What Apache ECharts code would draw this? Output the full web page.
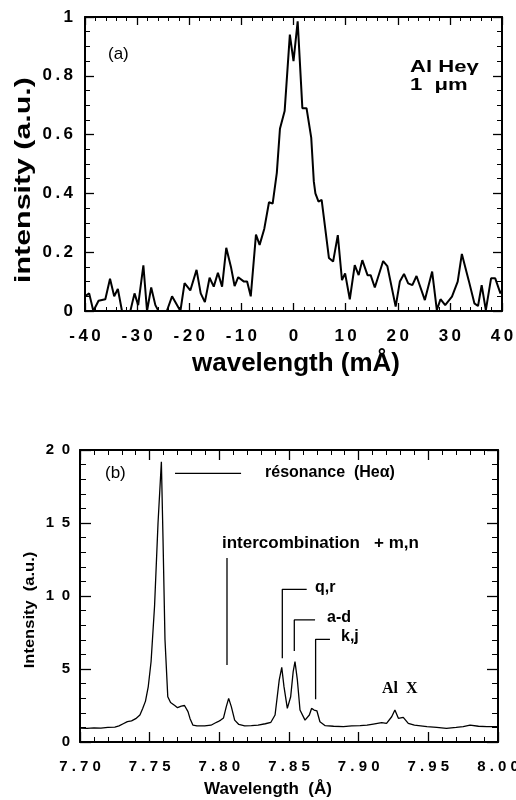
<!DOCTYPE html>
<html>
<head>
<meta charset="utf-8">
<script src="https://cdn.jsdelivr.net/npm/echarts@6/dist/echarts.min.js"></script>
<style>
  html, body { margin: 0; padding: 0; background: #fff; }
  #main { width: 516px; height: 800px; }
</style>
</head>
<body>
<div id="main"></div>
<script>
// panel (a): Al He-gamma line profile
var waveA = [-40, -39.2, -38.4, -37.4, -36.1, -35.2, -34.4, -33.7, -32.9, -31.3, -30.5, -29.8, -28.8, -28.1,
  -27.3, -26.5, -25.9, -24.3, -23.3, -21.7, -20.9, -19.8, -18.6, -17.8, -17.0, -16.1, -15.3, -14.5, -13.7,
  -12.9, -12.0, -11.3, -10.6, -9.5, -8.9, -8.2, -7.2, -6.5, -5.6, -4.7, -4.0, -3.2, -2.6, -1.7, -0.7, 0.0,
  0.8, 1.7, 2.5, 3.4, 3.9, 4.2, 4.8, 5.4, 6.8, 7.6, 8.5, 9.3, 9.9, 10.8, 11.75, 12.5, 13.2, 14.2, 14.8,
  15.6, 17.2, 18.0, 19.6, 20.4, 21.2, 22.0, 22.8, 23.6, 25.2, 26.6, 27.5, 28.2, 29.1, 30.4, 31.5, 32.3,
  33.6, 34.7, 35.4, 36.1, 36.9, 37.9, 38.7, 39.7, 40];
var intA = [0.05, 0.06, 0.0, 0.035, 0.04, 0.11, 0.05, 0.075, 0.0, 0.0, 0.06, 0.02, 0.155, 0.0,
  0.08, 0.02, 0.0, 0.0, 0.05, 0.0, 0.095, 0.07, 0.14, 0.06, 0.03, 0.113, 0.083, 0.13, 0.083,
  0.215, 0.15, 0.085, 0.115, 0.10, 0.10, 0.05, 0.26, 0.225, 0.28, 0.37, 0.365, 0.47, 0.62, 0.68, 0.94, 0.85,
  0.985, 0.69, 0.69, 0.59, 0.44, 0.40, 0.372, 0.378, 0.18, 0.168, 0.258, 0.105, 0.128, 0.04, 0.156, 0.122, 0.173, 0.122, 0.122,
  0.08, 0.17, 0.153, 0.015, 0.10, 0.126, 0.094, 0.088, 0.119, 0.037, 0.134, 0.003, 0.04, 0.02, 0.049, 0.10, 0.194,
  0.105, 0.026, 0.017, 0.088, 0.003, 0.111, 0.111, 0.06, 0.07];

// panel (b): He-alpha region spectrum
var waveB = [7.700, 7.705, 7.710, 7.715, 7.720, 7.725, 7.728, 7.731, 7.734, 7.737, 7.740, 7.743, 7.745, 7.747,
  7.749, 7.751, 7.7535, 7.756, 7.7584, 7.7596, 7.761, 7.763, 7.765, 7.768, 7.770, 7.7727, 7.775, 7.7775, 7.779,
  7.781, 7.784, 7.7895, 7.794, 7.797, 7.799, 7.801, 7.803, 7.805, 7.8067, 7.8086, 7.811, 7.814, 7.8182, 7.823,
  7.8278, 7.833, 7.837, 7.840, 7.843, 7.8448, 7.8464, 7.8488, 7.8512, 7.853, 7.8543, 7.856, 7.8579, 7.8615,
  7.8646, 7.8662, 7.868, 7.870, 7.8722, 7.876, 7.882, 7.889, 7.895, 7.901, 7.906, 7.9105, 7.9165, 7.920,
  7.9237, 7.926, 7.9285, 7.932, 7.9356, 7.940, 7.949, 7.956, 7.963, 7.970, 7.975, 7.980, 7.986, 7.992, 8.000];
var intB = [0.95, 0.93, 0.97, 0.95, 1.00, 1.02, 1.10, 1.25, 1.40, 1.45, 1.60, 1.85, 2.30, 2.80,
  3.80, 5.50, 9.3, 15.0, 19.2, 13.8, 7.0, 3.1, 2.7, 2.5, 2.35, 2.45, 2.50, 2.08, 1.60,
  1.16, 1.10, 1.10, 1.15, 1.30, 1.39, 1.50, 1.65, 2.42, 2.99, 2.42, 1.50, 1.20, 1.10, 1.12,
  1.16, 1.25, 1.35, 1.85, 4.25, 5.11, 3.79, 2.30, 3.10, 4.82, 5.50, 4.25, 2.19, 1.50,
  1.85, 2.30, 2.19, 2.14, 1.39, 1.12, 1.08, 1.05, 1.10, 1.12, 1.15, 1.23, 1.32, 1.28,
  1.73, 2.19, 1.62, 1.69, 1.28, 1.15, 1.05, 1.00, 0.94, 1.00, 1.05, 1.16, 1.08, 1.05, 1.05];

// line identification markers in (b), data coordinates
var resonanceMark = [[7.7682, 18.4], [7.8156, 18.4]];
var intercombMark = [[7.8055, 5.27], [7.8055, 12.6]];
var qrMark = [[7.8452, 5.73], [7.8452, 10.46], [7.8627, 10.46]];
var adMark = [[7.8538, 6.23], [7.8538, 8.36], [7.8687, 8.36]];
var kjMark = [[7.8691, 2.92], [7.8691, 7.03], [7.8794, 7.03]];

function zip(xs, ys) {
  return xs.map(function (x, i) { return [x, ys[i]]; });
}
function spaced(sep, digits) {
  return function (v) {
    var s = digits == null ? String(+v.toFixed(3)) : v.toFixed(digits);
    return s.split('').join(sep);
  };
}

var FONT = 'Liberation Sans';
var black = '#000';

var blankLabel = { show: true, fontSize: 8, color: black, formatter: function () { return ' '; } };

// inward ticks come from an axis on the opposite side, pulled across the
// grid with a negative offset so that its outward ticks point into the plot
function axis(gridIndex, pos, range, opt) {
  return {
    type: 'value', gridIndex: gridIndex, position: pos, offset: opt.offset || 0,
    min: range[0], max: range[1], interval: range[2],
    axisLine: { show: !!opt.line, onZero: false, lineStyle: { color: black, width: 2 } },
    axisTick: { show: !!opt.ticks, inside: false, length: opt.major || 8, lineStyle: { color: black, width: 1.3 } },
    minorTick: { show: !!opt.ticks, splitNumber: range[3], length: opt.minor || 4, lineStyle: { color: black, width: 1 } },
    splitLine: { show: false },
    axisLabel: opt.label || blankLabel
  };
}
function tickLabel(size, margin, fmt) {
  return { show: true, margin: margin, fontFamily: FONT, fontWeight: 'bold', fontSize: size, color: black, formatter: fmt };
}
function frame(gridIndex, isX, range, span, label, major, minor) {
  var near = isX ? 'bottom' : 'left', far = isX ? 'top' : 'right';
  return [
    axis(gridIndex, near, range, { line: true, label: label }),
    axis(gridIndex, far, range, { offset: -span, ticks: true, major: major, minor: minor }),
    axis(gridIndex, near, range, { offset: -span, ticks: true, line: true, major: major, minor: minor })
  ];
}

function txt(x, y, s, size, opts) {
  opts = opts || {};
  return {
    type: 'text', x: x, y: y, rotation: opts.rotation || 0,
    scaleX: opts.sx || 1, scaleY: 1, silent: true,
    style: {
      text: s, fontSize: size, fontFamily: opts.family || FONT, fontWeight: opts.weight || 'bold',
      fill: black, align: opts.align || 'left', verticalAlign: 'middle'
    }
  };
}

function spectrum(xi, yi, data, width) {
  return {
    type: 'line', xAxisIndex: xi, yAxisIndex: yi, data: data,
    showSymbol: false, symbol: 'none', lineStyle: { color: black, width: width }
  };
}
// the tick-only axes need a series on them, otherwise their scale stays blank
function tickCarrier(xi, yi, data) {
  return {
    type: 'line', xAxisIndex: xi, yAxisIndex: yi, data: data, silent: true,
    showSymbol: false, symbol: 'none', lineStyle: { opacity: 0 }, z: 0
  };
}
function markSeries(pts) {
  return {
    type: 'line', xAxisIndex: 3, yAxisIndex: 3, data: pts, showSymbol: false, symbol: 'none',
    lineStyle: { color: black, width: 1.3 }, silent: true
  };
}

var rangeAx = [-40, 40, 10, 5], rangeAy = [0, 1, 0.2, 4];
var rangeBx = [7.70, 8.00, 0.05, 5], rangeBy = [0, 20, 5, 5];

var chart = echarts.init(document.getElementById('main'));
chart.setOption({
  backgroundColor: '#fff',
  animation: false,
  grid: [
    { left: 85, right: 14, top: 17, height: 294, outerBoundsMode: 'none' },
    { left: 80, right: 18, top: 450, height: 292, outerBoundsMode: 'none' }
  ],
  xAxis: frame(0, true, rangeAx, 294, tickLabel(17, 17, spaced('\u2009')), 8, 4)
    .concat(frame(1, true, rangeBx, 292, tickLabel(15, 17, spaced(' ', 2)), 10, 5)),
  yAxis: frame(0, false, rangeAy, 417, tickLabel(17, 12, spaced('\u2009')), 9, 5)
    .concat(frame(1, false, rangeBy, 418, tickLabel(15, 10, spaced('\u2002')), 11, 6)),
  series: [
    spectrum(0, 0, zip(waveA, intA), 2),
    spectrum(3, 3, zip(waveB, intB), 1.3),
    tickCarrier(1, 1, zip(waveA, intA)),
    tickCarrier(2, 2, zip(waveA, intA)),
    tickCarrier(4, 4, zip(waveB, intB)),
    tickCarrier(5, 5, zip(waveB, intB)),
    markSeries(resonanceMark),
    markSeries(intercombMark),
    markSeries(qrMark),
    markSeries(adMark),
    markSeries(kjMark)
  ],
  graphic: [
    // axis titles
    txt(24, 180, 'intensity (a.u.)', 22, { align: 'center', rotation: Math.PI / 2, sx: 1.38 }),
    txt(296, 364, 'wavelength (mÅ)', 26, { align: 'center' }),
    txt(30, 610, 'Intensity  (a.u.)', 15, { align: 'center', rotation: Math.PI / 2, sx: 1.1 }),
    txt(268, 789, 'Wavelength  (Å)', 17, { align: 'center' }),
    // panel (a) notes
    txt(108, 54, '(a)', 17, { weight: 'normal' }),
    txt(410, 67, 'Al He\u03b3', 17, { sx: 1.3 }),
    txt(410, 85, '1  \u03bcm', 17, { sx: 1.3 }),
    // panel (b) notes
    txt(105, 473, '(b)', 17, { weight: 'normal' }),
    txt(265, 473, 'résonance  (He\u03b1)', 16),
    txt(222, 543, 'intercombination   + m,n', 17),
    txt(315, 588, 'q,r', 16),
    txt(327, 618, 'a-d', 16),
    txt(341, 637, 'k,j', 16),
    txt(382, 689, 'Al  X', 16, { family: 'Liberation Serif' })
  ]
});
</script>
</body>
</html>
